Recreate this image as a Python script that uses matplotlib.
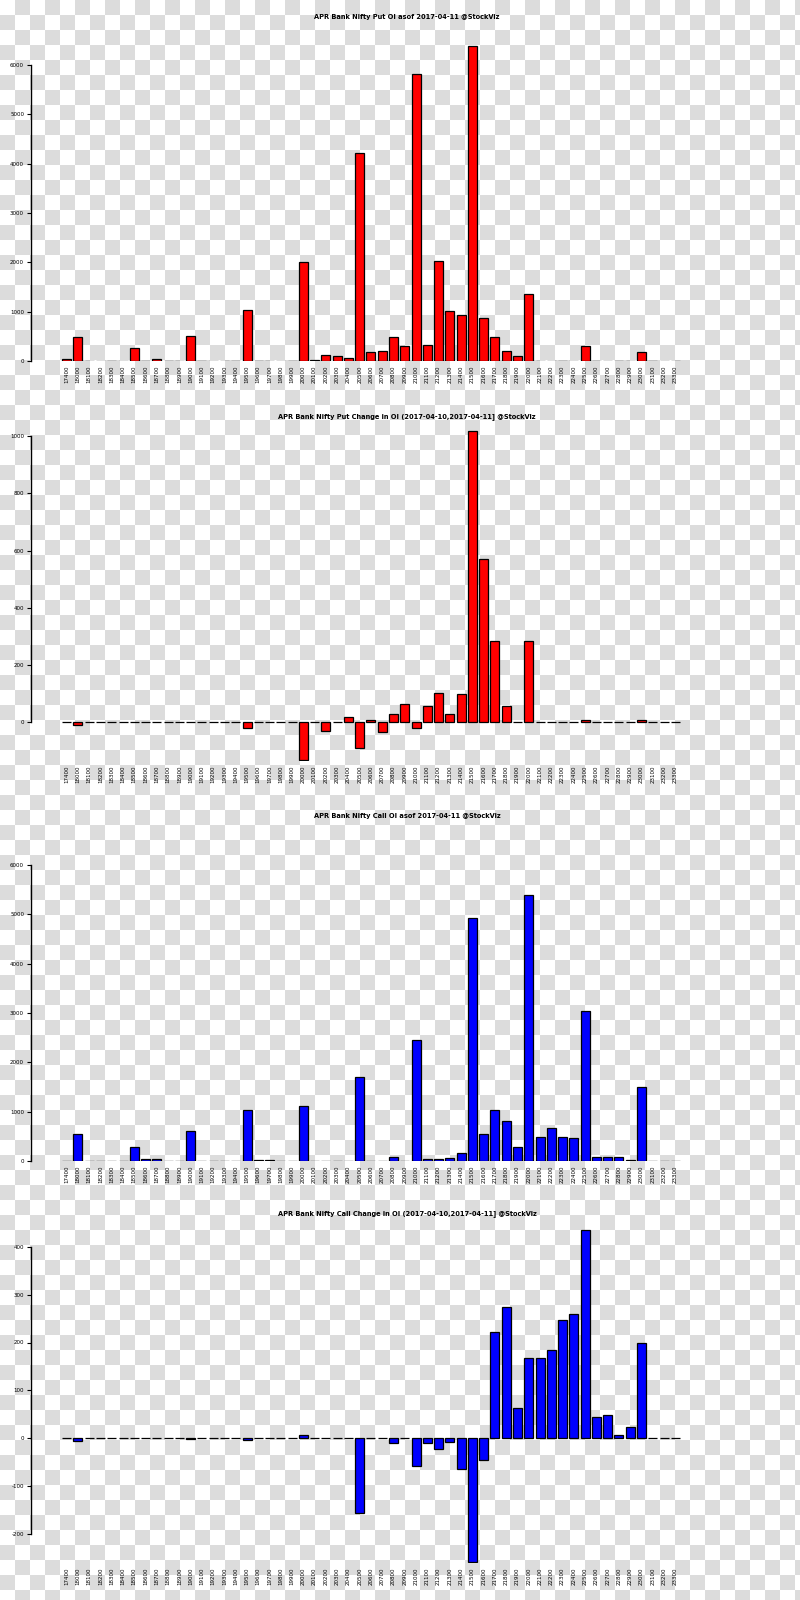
import numpy as np
import matplotlib
matplotlib.use("Agg")
import matplotlib.pyplot as plt

strikes = ["17400", "18000", "18100", "18200", "18300", "18400", "18500", "18600", "18700",
           "18800", "18900", "19000", "19100", "19200", "19300", "19400", "19500", "19600",
           "19700", "19800", "19900", "20000", "20100", "20200", "20300", "20400", "20500",
           "20600", "20700", "20800", "20900", "21000", "21100", "21200", "21300", "21400",
           "21500", "21600", "21700", "21800", "21900", "22000", "22100", "22200", "22300",
           "22400", "22500", "22600", "22700", "22800", "22900", "23000", "23100", "23200",
           "23300"]

put_oi = [40, 480, 5, 5, 5, 5, 260, 10, 35, 10, 5, 510, 5, 5, 10, 10, 1030, 10, 10, 5,
          5, 2010, 15, 120, 100, 55, 4220, 176, 210, 490, 310, 5810, 325, 2030, 1010, 930,
          6390, 870, 480, 210, 100, 1360, 10, 5, 5, 5, 310, 5, 5, 5, 5, 180, 5, 5, 5]

put_chg = [0, -10, 0, 0, 0, 0, 0, 0, 0, 0, 0, 3, 0, 0, 0, 0, -20, 0, 0, 0,
           0, -132, 0, -30, 0, 18, -89, 10, -35, 28, 64, -18, 57, 103, 30, 100,
           1019, 570, 285, 57, 0, 285, 0, 0, 0, 0, 10, 0, 0, 0, 0, 8, 0, 0, 0]

call_oi = [10, 540, 5, 5, 5, 5, 290, 40, 40, 10, 5, 600, 10, 10, 10, 10, 1035, 15, 15, 10,
           5, 1120, 10, 10, 10, 5, 1700, 5, 5, 80, 10, 2460, 50, 50, 60, 170,
           4930, 540, 1035, 810, 290, 5400, 480, 660, 480, 460, 3040, 80, 80, 80, 20,
           1490, 5, 5, 5]

call_chg = [0, -7, 0, 0, 0, 0, 0, 0, 0, 0, 0, -3, 0, 0, 0, 0, -4, 0, 0, 0,
            0, 6, 0, 0, 0, 0, -158, 0, 0, -11, 0, -58, -11, -24, -8, -64,
            -259, -47, 223, 274, 62, 167, 167, 184, 248, 259, 435, 45, 49, 6, 24,
            199, 0, 0, 0]

titles = ["APR Bank Nifty Put OI asof 2017-04-11 @StockViz",
          "APR Bank Nifty Put Change in OI (2017-04-10,2017-04-11] @StockViz",
          "APR Bank Nifty Call OI asof 2017-04-11 @StockViz",
          "APR Bank Nifty Call Change in OI (2017-04-10,2017-04-11] @StockViz"]

W, H = 800, 1600
fig = plt.figure(figsize=(8, 16), dpi=100)
fig.patch.set_facecolor("white")

# checkerboard background
yy, xx = np.mgrid[0:H, 0:W]
chk = ((xx // 15 + yy // 15) % 2 == 1)
img = np.where(chk, 220, 255).astype(np.uint8)
img = np.stack([img, img, img], axis=-1)
fig.figimage(img, xo=0, yo=0, origin="upper", zorder=-5)

# panel specs: (values, color, px of value a, a, px of value b, b, ylim, yticks, title_y)
panels = [
    (put_oi, "#ff0000", 65, 6000, 361, 0, (0, 6600), list(range(0, 6001, 1000)), 17),
    (put_chg, "#ff0000", 436, 1000, 722.4, 0, (-135, 1080), list(range(0, 1001, 200)), 417),
    (call_oi, "#0000ff", 865, 6000, 1161, 0, (0, 6600), list(range(0, 6001, 1000)), 816),
    (call_chg, "#0000ff", 1247, 400, 1438, 0, (-262, 440), list(range(-200, 401, 100)), 1214),
]

L, R = 31, 700
x0, dx = 66.7, 11.27
xlim = ((L - x0) / dx, (R - x0) / dx)
x = np.arange(len(strikes))

for vals, col, pa, a, pb, b, ylim, yt, ty in panels:
    s = (pb - pa) / (a - b)  # px per unit
    top_px = pb - (ylim[1] - b) * s
    bot_px = pb + (b - ylim[0]) * s
    ax = fig.add_axes([L / W, 1 - bot_px / H, (R - L) / W, (bot_px - top_px) / H])
    ax.set_facecolor("none")
    ax.bar(x, vals, width=0.8, color=col, edgecolor="black", linewidth=0.9)
    ax.set_xlim(*xlim)
    ax.set_ylim(*ylim)
    for sp in ["top", "right", "bottom"]:
        ax.spines[sp].set_visible(False)
    ax.spines["left"].set_bounds(yt[0], yt[-1])
    ax.spines["left"].set_linewidth(1.0)
    ax.set_yticks(yt)
    ax.set_yticklabels([str(v) for v in yt], fontsize=4)
    ax.tick_params(axis="y", length=3, width=0.8, pad=2)
    ax.set_xticks(x)
    ax.set_xticklabels(strikes, rotation=90, fontsize=4)
    ax.tick_params(axis="x", length=0, pad=3)
    fig.text(407 / W, 1 - ty / H, titles[panels.index((vals, col, pa, a, pb, b, ylim, yt, ty))],
             ha="center", va="center", fontsize=4.8, fontweight="bold")

fig.savefig("out.png", dpi=100)
